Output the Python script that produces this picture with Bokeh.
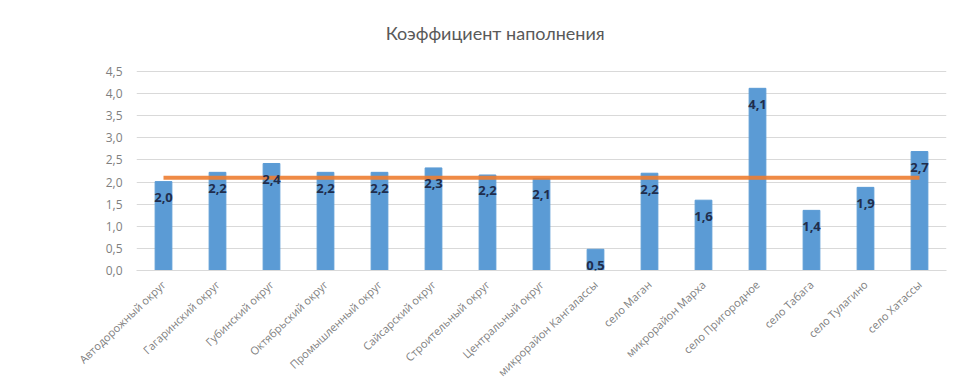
from bokeh.plotting import figure
from bokeh.models import ColumnDataSource, CustomJSTickFormatter, LabelSet, Label, Range1d, FixedTicker
from bokeh.core.properties import value
from bokeh.embed import file_html
from bokeh.resources import INLINE

title_text = "Коэффициент  наполнения"
categories = [
    "Автодорожный округ", "Гагаринский округ", "Губинский округ", "Октябрьский округ",
    "Промышленный округ", "Сайсарский округ", "Строительный округ", "Центральный округ",
    "микрорайон Кангаласcы", "село Маган", "микрорайон Марха", "село Пригородное",
    "село Табага", "село Тулагино", "село Хатассы",
]
values = [2.01, 2.22, 2.42, 2.22, 2.22, 2.32, 2.16, 2.08, 0.48, 2.20, 1.59, 4.12, 1.36, 1.88, 2.69]
value_labels = ["2,0", "2,2", "2,4", "2,2", "2,2", "2,3", "2,2", "2,1", "0,5", "2,2", "1,6", "4,1", "1,4", "1,9", "2,7"]
average = [2.1, 2.1, 2.1, 2.1, 2.1, 2.1, 2.1, 2.1, 2.1, 2.1, 2.1, 2.1, 2.1, 2.1, 2.1]
y_ticks = [0.0, 0.5, 1.0, 1.5, 2.0, 2.5, 3.0, 3.5, 4.0, 4.5]

src = ColumnDataSource(dict(cat=categories, val=values, lab=value_labels, avg=average))

# the frame extends above the 4,5 gridline so the title can sit inside it
p = figure(x_range=categories, y_range=Range1d(0, 5.88),
           frame_width=810, frame_height=260,
           output_backend="svg", toolbar_location=None,
           min_border_left=136, min_border_right=2, min_border_top=10, min_border_bottom=100)

title = Label(x=6.685, y=5.36, x_units="data", y_units="data", text=title_text,
              text_align="center", text_baseline="middle",
              text_font="Lato", text_font_size="18px", text_color="#595959")
p.add_layout(title)

p.vbar(x="cat", top="val", width=0.31, source=src, color="#5B9BD5")
p.line(x="cat", y="avg", source=src, line_color="#ED7D31", line_width=4, line_alpha=0.9)

labels = LabelSet(x="cat", y="val", text="lab", source=src, y_offset=-16,
                  text_align="center", text_baseline="middle",
                  text_font=value("Open Sans"), text_font_size=value("13px"),
                  text_font_style=value("bold"), text_color=value("#1F2D4D"))
p.add_layout(labels)

p.outline_line_color = None
p.xgrid.visible = False
p.ygrid.grid_line_color = "#D9D9D9"

p.yaxis.ticker = FixedTicker(ticks=y_ticks)
p.yaxis.formatter = CustomJSTickFormatter(code="return tick.toFixed(1).replace('.', ',');")
p.yaxis.axis_line_color = None
p.yaxis.major_tick_line_color = None
p.yaxis.minor_tick_line_color = None
p.yaxis.major_label_standoff = 8
p.yaxis.major_label_text_font = "Open Sans"
p.yaxis.major_label_text_font_size = "12px"
p.yaxis.major_label_text_color = "#7F7F7F"

p.xaxis.axis_line_color = "#D9D9D9"
p.xaxis.major_tick_line_color = None
p.xaxis.minor_tick_line_color = None
p.xaxis.major_label_orientation = 0.76
p.xaxis.major_label_standoff = 6
p.xaxis.major_label_text_font = "Open Sans"
p.xaxis.major_label_text_font_size = "11px"
p.xaxis.major_label_text_color = "#7F7F7F"

open("out.html", "w").write(file_html(p, INLINE))
